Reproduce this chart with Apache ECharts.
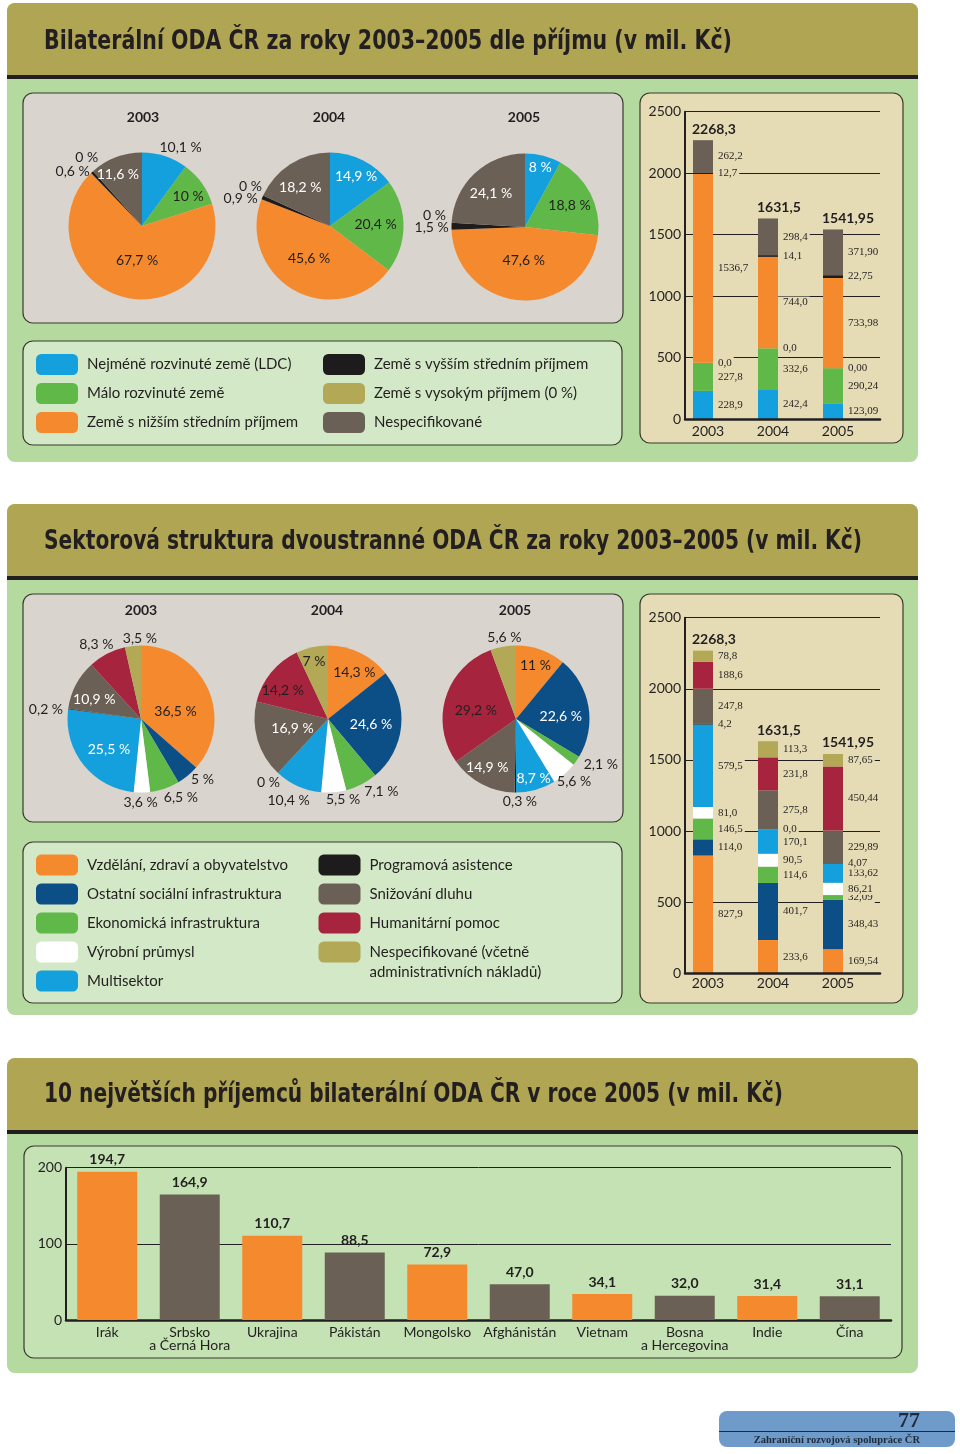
<!DOCTYPE html>
<html>
<head>
<meta charset="utf-8">
<script src="https://cdn.jsdelivr.net/npm/echarts@6/dist/echarts.min.js"></script>
<style>
html,body{margin:0;padding:0;background:#ffffff;}
#c{width:960px;height:1454px;}
</style>
</head>
<body>
<div id="c"></div>
<script>
// ---------------- DATA ----------------
const years = ['2003', '2004', '2005'];

// Section 1: by income group (pie order = legend order)
const incomeGroups = ['Nejméně rozvinuté země (LDC)', 'Málo rozvinuté země', 'Země s nižším středním příjmem',
  'Země s vyšším středním příjmem', 'Země s vysokým příjmem', 'Nespecifikované'];
const incomePct2003 = [10.1, 10, 67.7, 0.6, 0, 11.6];
const incomePct2004 = [14.9, 20.4, 45.6, 0.9, 0, 18.2];
const incomePct2005 = [8, 18.8, 47.6, 1.5, 0, 24.1];
// values per group for 2003, 2004, 2005
const incomeLDC = [228.9, 242.4, 123.09];
const incomeLow = [227.8, 332.6, 290.24];
const incomeLowerMid = [1536.7, 744.0, 733.98];
const incomeUpperMid = [12.7, 14.1, 22.75];
const incomeHigh = [0, 0, 0];
const incomeUnspec = [262.2, 298.4, 371.90];
const incomeTotals = [2268.3, 1631.5, 1541.95];

// Section 2: by sector
const sectors = ['Vzdělání, zdraví a obyvatelstvo', 'Ostatní sociální infrastruktura', 'Ekonomická infrastruktura',
  'Výrobní průmysl', 'Multisektor', 'Programová asistence', 'Snižování dluhu', 'Humanitární pomoc',
  'Nespecifikované (včetně administrativních nákladů)'];
const sectorPct2003 = [36.5, 5, 6.5, 3.6, 25.5, 0.2, 10.9, 8.3, 3.5];
const sectorPct2004 = [14.3, 24.6, 7.1, 5.5, 10.4, 0, 16.9, 14.2, 7];
const sectorPct2005 = [11, 22.6, 2.1, 5.6, 8.7, 0.3, 14.9, 29.2, 5.6];
const sectorVal2003 = [827.9, 114.0, 146.5, 81.0, 579.5, 4.2, 247.8, 188.6, 78.8];
const sectorVal2004 = [233.6, 401.7, 114.6, 90.5, 170.1, 0.0, 275.8, 231.8, 113.3];
const sectorVal2005 = [169.54, 348.43, 32.09, 86.21, 133.62, 4.07, 229.89, 450.44, 87.65];
const sectorTotals = [2268.3, 1631.5, 1541.95];

// Section 3: top 10 recipients 2005
const recipients = ['Irák', 'Srbsko\na Černá Hora', 'Ukrajina', 'Pákistán', 'Mongolsko', 'Afghánistán',
  'Vietnam', 'Bosna\na Hercegovina', 'Indie', 'Čína'];
const recipientVals = [194.7, 164.9, 110.7, 88.5, 72.9, 47.0, 34.1, 32.0, 31.4, 31.1];

const barDecimals = [1, 1, 2];

// ---------------- STYLE ----------------
const DARK = '#231f20';
const WHITE = '#ffffff';
const FONT = 'Lato';
const SERIF = '"Liberation Serif", serif';
const TFONT = '"Liberation Sans Narrow", "DejaVu Sans Condensed", "Liberation Sans", sans-serif';
const COL = {
  blue: '#13a0dc', green: '#5fb848', orange: '#f5892e', black: '#1d1b1b', olive: '#b2a856',
  gray: '#6b6055', navy: '#0b4f86', red: '#a7243f', white: '#ffffff'
};
const BG = {
  outer: '#b4da9f', header: '#b0a553', piePanel: '#d9d4cd', legendPanel: '#d3e8c6',
  barPanel: '#e5dcb5', bottomPanel: '#c4e2b3', footer: '#6e9bc9'
};
const incomeColors = [COL.blue, COL.green, COL.orange, COL.black, COL.olive, COL.gray];
const sectorColors = [COL.orange, COL.navy, COL.green, COL.white, COL.blue, COL.black, COL.gray, COL.red, COL.olive];

// label placement [radius fraction, angular nudge in degrees]
const placeI2003 = [[1.19, 8], [0.745, 3], [0.47, -6], [1.2, -9], [1.2, 3], [0.78, -4]];
const placeI2004 = [[0.76, 1], [0.62, -2], [0.52, 4], [1.27, -6], [1.21, 2], [0.66, -5]];
const placeI2005 = [[0.83, 0], [0.67, 2], [0.45, 0], [1.27, -1], [1.24, 4], [0.65, -2]];
const placeS2003 = [[0.48, 12], [1.17, -6], [1.2, -8], [1.14, 1], [0.6, -5], [1.3, -2], [0.69, -5], [1.18, -3.5], [1.09, 5.5]];
const placeS2004 = [[0.73, 3.7], [0.59, 2], [1.23, -9], [1.12, -6], [1.23, 1.7], [1.18, 0.4], [0.5, 2], [0.73, -6.6], [0.81, -1]];
const placeS2005 = [[0.78, 0], [0.61, 6.7], [1.31, -6.5], [1.16, -1.6], [0.84, -0.8], [1.12, -3.3], [0.77, 2.7], [0.56, -4.8], [1.12, 2]];
const lcI2003 = [DARK, DARK, DARK, DARK, DARK, WHITE];
const lcI2004 = [WHITE, DARK, DARK, DARK, DARK, WHITE];
const lcI2005 = [WHITE, DARK, DARK, DARK, DARK, WHITE];
const lcS2003 = [DARK, DARK, DARK, DARK, WHITE, DARK, WHITE, DARK, DARK];
const lcS2004 = [DARK, WHITE, DARK, DARK, DARK, DARK, WHITE, DARK, DARK];
const lcS2005 = [DARK, WHITE, DARK, DARK, WHITE, DARK, WHITE, DARK, DARK];

const fmtNum = (v, d) => Number(v).toFixed(d).replace('.', ',');
const fmtPct = v => String(v).replace('.', ',') + ' %';

function pieLabelLayout(cx, cy, r, place) {
  return function (p) {
    const pl = place[p.dataIndex];
    const lx = p.labelRect.x + p.labelRect.width / 2 - cx;
    const ly = p.labelRect.y + p.labelRect.height / 2 - cy;
    const len = Math.sqrt(lx * lx + ly * ly) || 1;
    const a = pl[1] * Math.PI / 180;
    const rx = lx * Math.cos(a) - ly * Math.sin(a);
    const ry = lx * Math.sin(a) + ly * Math.cos(a);
    const s = pl[0] * r / len;
    return { x: cx + rx * s, y: cy + ry * s, align: 'center', verticalAlign: 'middle' };
  };
}

function pieSeries(names, values, colors, labelColors, place, cx, cy) {
  const r = 73.5;
  return {
    type: 'pie', center: [cx, cy], radius: r, startAngle: 90, clockwise: true,
    silent: true, animation: false, avoidLabelOverlap: false,
    label: { show: true, position: 'inside', fontFamily: FONT, fontSize: 14, formatter: p => fmtPct(p.value) },
    labelLine: { show: false },
    emphasis: { disabled: true },
    data: names.map((n, i) => ({ name: n, value: values[i], itemStyle: { color: colors[i] }, label: { color: labelColors[i] } })),
    labelLayout: pieLabelLayout(cx, cy, r, place)
  };
}

function stackBar(name, data, color, xi, yi, stackKey) {
  return {
    type: 'bar', name: name, stack: stackKey, xAxisIndex: xi, yAxisIndex: yi, barWidth: 20, barGap: '-100%',
    silent: true, animation: false, data: data, itemStyle: { color: color },
    label: {
      show: true, position: 'right', distance: 0,
      formatter: p => fmtNum(p.value, barDecimals[p.dataIndex]),
      fontFamily: SERIF, fontSize: 11, color: DARK, backgroundColor: BG.barPanel,
      padding: [0, 2, 0, 5], lineHeight: 12
    }
  };
}

function totalBar(data, xi, yi, stackKey) {
  return {
    type: 'bar', name: 'celkem', stack: stackKey, xAxisIndex: xi, yAxisIndex: yi, barWidth: 20, barGap: '-100%',
    silent: true, animation: false, data: data, itemStyle: { color: 'rgba(0,0,0,0)' },
    label: {
      show: true, position: [-1, -4], align: 'left', verticalAlign: 'bottom',
      formatter: p => fmtNum(p.value, barDecimals[p.dataIndex]),
      fontFamily: FONT, fontWeight: 'bold', fontSize: 14, color: DARK
    }
  };
}

function catAxis(gi, data, margin) {
  return {
    type: 'category', gridIndex: gi, data: data,
    axisLine: { show: false }, axisTick: { show: false }, splitLine: { show: false },
    axisLabel: { interval: 0, fontFamily: FONT, fontSize: 14, color: DARK, margin: margin, padding: [0, 0, 0, 10] }
  };
}
function hiddenValueX(gi) {
  return {
    type: 'value', gridIndex: gi, min: 0, max: 1, z: 5,
    axisLabel: { show: false }, axisTick: { show: false }, splitLine: { show: false },
    axisLine: { show: true, onZero: false, lineStyle: { color: DARK, width: 2.5 } }
  };
}
function valueY(gi, max, interval, show) {
  if (!show) return { type: 'value', gridIndex: gi, min: 0, max: max, show: false };
  return {
    type: 'value', gridIndex: gi, min: 0, max: max, interval: interval,
    axisLine: { show: true, onZero: false, lineStyle: { color: DARK, width: 2 } },
    axisTick: { show: false },
    splitLine: { show: true, lineStyle: { color: DARK, width: 1 } },
    axisLabel: { fontFamily: FONT, fontSize: 14, color: DARK, margin: 4, formatter: v => String(v) }
  };
}

// ---------------- GRAPHIC (panels, titles) ----------------
function rect(x, y, w, h, r, fill, stroke) {
  return {
    type: 'rect', z: -10, silent: true, shape: { x: x, y: y, width: w, height: h, r: r },
    style: { fill: fill, stroke: stroke || null, lineWidth: stroke ? 1.2 : 0 }
  };
}
function txt(text, x, y, opts) {
  return {
    type: 'text', x: x, y: y, z: 10, silent: true,
    style: Object.assign({ text: text, fill: DARK, fontFamily: FONT, fontSize: 14, align: 'center', verticalAlign: 'middle' }, opts || {})
  };
}
function titleText(text, x, y, target) {
  const ctx = document.createElement('canvas').getContext('2d');
  ctx.font = 'bold 26px ' + TFONT;
  const w = ctx.measureText(text).width || target;
  return {
    type: 'text', x: x, y: y, z: 10, silent: true, scaleX: target / w,
    style: { text: text, fill: DARK, fontFamily: TFONT, fontSize: 26, fontWeight: 'bold', align: 'left', verticalAlign: 'middle' }
  };
}
const PB = '#3b3a2e';
function section(y, h) {
  return [
    rect(7, y, 911, h, 8, BG.outer),
    rect(7, y, 911, 72, [8, 8, 0, 0], BG.header),
    rect(7, y + 72, 911, 4, 0, DARK)
  ];
}

const graphics = [].concat(
  section(3, 459),
  [rect(23, 93, 600, 230, 10, BG.piePanel, PB),
   rect(23, 341, 599, 104, 10, BG.legendPanel, PB),
   rect(640, 93, 263, 350, 10, BG.barPanel, PB)],
  section(504, 511),
  [rect(23, 594, 600, 228, 10, BG.piePanel, PB),
   rect(23, 842, 599, 161, 10, BG.legendPanel, PB),
   rect(640, 594, 263, 409, 10, BG.barPanel, PB)],
  section(1058, 315),
  [rect(24, 1146, 878, 212, 10, BG.bottomPanel, PB)],
  [rect(719, 1411, 236, 36, 8, BG.footer),
   { type: 'line', z: 5, silent: true, shape: { x1: 719, y1: 1431.5, x2: 955, y2: 1431.5 }, style: { stroke: '#1f2a3a', lineWidth: 1 } }],
  [titleText('Bilaterální ODA ČR za roky 2003–2005 dle příjmu (v mil. Kč)', 44, 42, 688),
   titleText('Sektorová struktura dvoustranné ODA ČR za roky 2003–2005 (v mil. Kč)', 44, 542, 818),
   titleText('10 největších příjemců bilaterální ODA ČR v roce 2005 (v mil. Kč)', 44, 1095, 739)],
  [txt(years[0], 143, 117, { fontWeight: 'bold' }), txt(years[1], 329, 117, { fontWeight: 'bold' }), txt(years[2], 524, 117, { fontWeight: 'bold' }),
   txt(years[0], 141, 610, { fontWeight: 'bold' }), txt(years[1], 327, 610, { fontWeight: 'bold' }), txt(years[2], 515, 610, { fontWeight: 'bold' })],
  [txt('77', 920, 1421, { align: 'right', fontFamily: SERIF, fontWeight: 'bold', fontSize: 22, fill: '#1f2a3a' }),
   txt('Zahraniční rozvojová spolupráce ČR', 920, 1440, { align: 'right', fontFamily: SERIF, fontWeight: 'bold', fontSize: 10.5, fill: '#1f2a3a' })]
);

// ---------------- SERIES ----------------
const incomeValues = [incomeLDC, incomeLow, incomeLowerMid, incomeUpperMid, incomeHigh, incomeUnspec];
const incomeStackOrder = [0, 1, 4, 2, 3, 5];
const series = [];
series.push(pieSeries(incomeGroups, incomePct2003, incomeColors, lcI2003, placeI2003, 142, 226));
series.push(pieSeries(incomeGroups, incomePct2004, incomeColors, lcI2004, placeI2004, 330, 226));
series.push(pieSeries(incomeGroups, incomePct2005, incomeColors, lcI2005, placeI2005, 525, 227));
incomeStackOrder.forEach(i => series.push(stackBar(incomeGroups[i], incomeValues[i], incomeColors[i], 0, 0, 'income')));
series.push(totalBar(incomeTotals, 0, 0, 'incomeTotal'));

series.push(pieSeries(sectors, sectorPct2003, sectorColors, lcS2003, placeS2003, 141, 719));
series.push(pieSeries(sectors, sectorPct2004, sectorColors, lcS2004, placeS2004, 328, 719));
series.push(pieSeries(sectors, sectorPct2005, sectorColors, lcS2005, placeS2005, 516, 719));
sectors.forEach((s, i) => series.push(stackBar(s, [sectorVal2003[i], sectorVal2004[i], sectorVal2005[i]], sectorColors[i], 2, 2, 'sector')));
series.push(totalBar(sectorTotals, 2, 2, 'sectorTotal'));

series.push({
  type: 'bar', name: 'příjemci', xAxisIndex: 4, yAxisIndex: 4, barWidth: 60, silent: true, animation: false,
  data: recipientVals.map((v, i) => ({ value: v, itemStyle: { color: i % 2 ? COL.gray : COL.orange } })),
  label: { show: true, position: 'top', distance: 5, formatter: p => fmtNum(p.value, 1),
    fontFamily: FONT, fontWeight: 'bold', fontSize: 14, color: DARK }
});

// ---------------- LEGENDS ----------------
function legend(names, left, top, fmt, textExtra) {
  return {
    data: names, left: left, top: top, orient: 'vertical', padding: 0, itemWidth: 42, itemHeight: 21, itemGap: 8,
    icon: 'roundRect', selectedMode: false,
    textStyle: Object.assign({ fontFamily: FONT, fontSize: 15, color: DARK, padding: [0, 0, 0, 4] }, textExtra || {}),
    formatter: fmt
  };
}
const legends = [
  legend(incomeGroups.slice(0, 3), 36, 354),
  legend(incomeGroups.slice(3), 323, 354, n => n === incomeGroups[4] ? n + ' (0 %)' : n),
  legend(sectors.slice(0, 5), 36, 854.5),
  legend(sectors.slice(5, 8), 318.5, 854.5),
  // leading empty line keeps the first text line level with the swatch
  legend([sectors[8]], 318.5, 922, n => '\n' + n.replace(' administrativních', '\nadministrativních'),
    { lineHeight: 20 })
];

// ---------------- OPTION ----------------
const option = {
  animation: false,
  backgroundColor: '#ffffff',
  graphic: { elements: graphics },
  legend: legends,
  grid: [
    { left: 670.5, top: 111.7, width: 195, height: 307.3 },
    { left: 685, top: 111.7, width: 195, height: 307.3 },
    { left: 670.5, top: 617.7, width: 195, height: 355.6 },
    { left: 685, top: 617.7, width: 195, height: 355.6 },
    { left: 66, top: 1167.7, width: 825, height: 152.3 }
  ],
  xAxis: [
    catAxis(0, years, 5),
    hiddenValueX(1),
    catAxis(2, years, 3),
    hiddenValueX(3),
    {
      type: 'category', gridIndex: 4, data: recipients,
      axisLine: { show: true, lineStyle: { color: DARK, width: 2.5 } }, axisTick: { show: false },
      axisLabel: { interval: 0, fontFamily: FONT, fontSize: 14, lineHeight: 13, color: DARK, margin: 6 }
    }
  ],
  yAxis: [
    valueY(0, 2500, 500, false),
    valueY(1, 2500, 500, true),
    valueY(2, 2500, 500, false),
    valueY(3, 2500, 500, true),
    valueY(4, 200, 100, true)
  ],
  series: series
};

const chart = echarts.init(document.getElementById('c'), null, { renderer: 'canvas', width: 960, height: 1454 });
chart.setOption(option);
</script>
</body>
</html>
